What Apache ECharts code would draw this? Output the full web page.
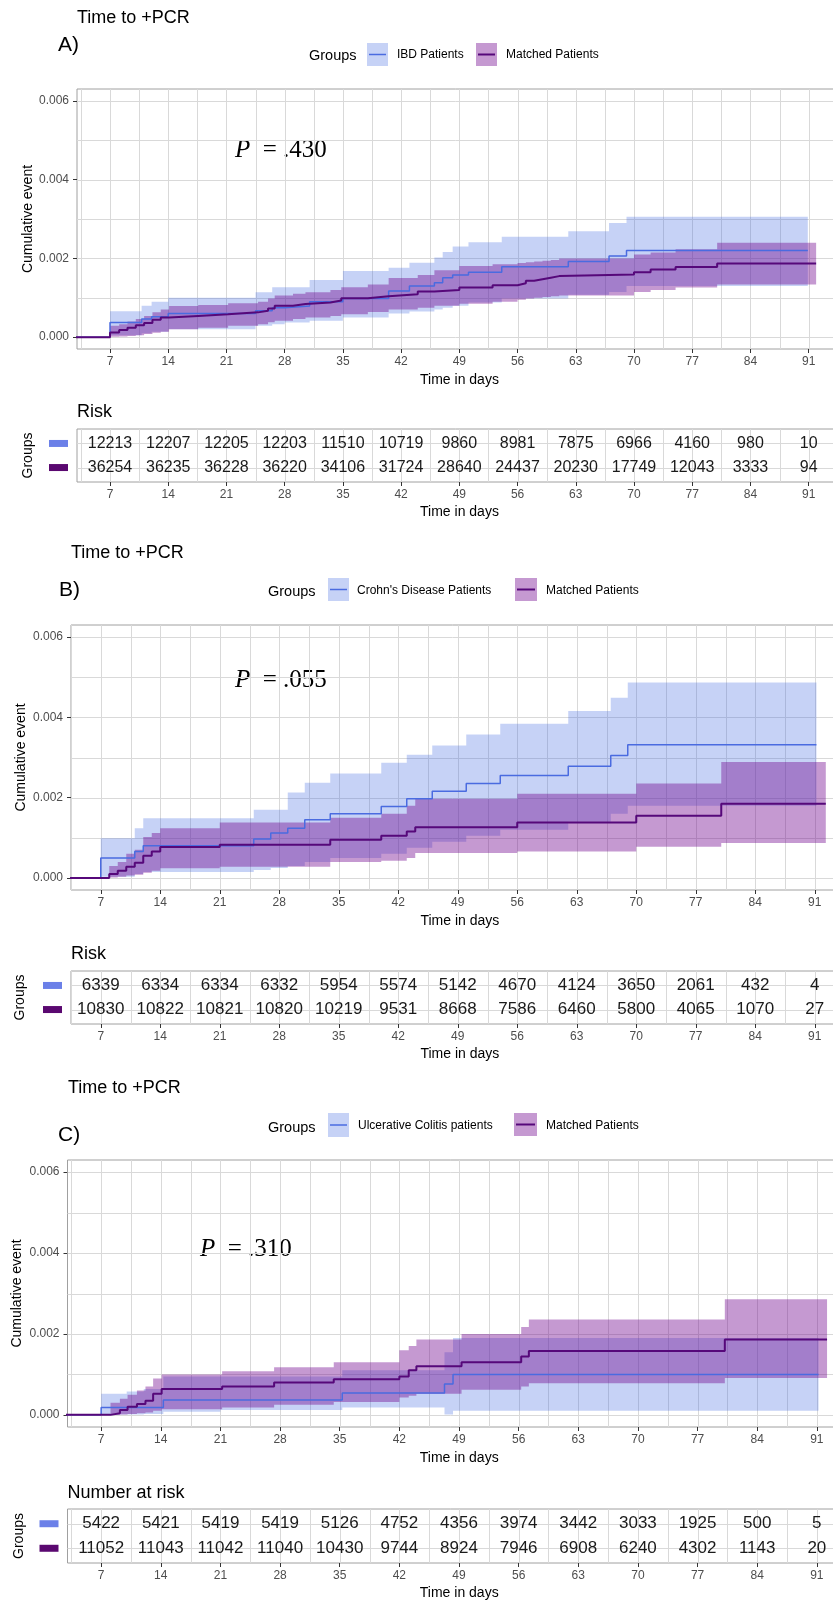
<!DOCTYPE html>
<html><head><meta charset="utf-8">
<script src="https://cdn.jsdelivr.net/npm/echarts@6/dist/echarts.min.js"></script>
<style>html,body{margin:0;padding:0;background:#fff}#c{width:833px;height:1603px}</style>
</head><body><div id="c"></div>
<script>
// ---------- DATA ----------
const xTicks = [7,14,21,28,35,42,49,56,63,70,77,84,91];
const xMinor = [3.5,10.5,17.5,24.5,31.5,38.5,45.5,52.5,59.5,66.5,73.5,80.5,87.5,94.5];
const yTicks = [0,0.002,0.004,0.006];
const yMinor = [0.001,0.003,0.005];
const riskTimes = [7,14,21,28,35,42,49,56,63,70,77,84,91];

// step rows: [day, estimate, lower CI, upper CI]; last row = end of follow-up
const ibdA = [
 [7,0.00037,0.00005,0.00066],[10.8,0.00046,0.0001,0.0008],[12,0.00052,0.00014,0.0009],
 [14,0.0006,0.0002,0.001],[24.5,0.00067,0.00029,0.00114],[26.5,0.00075,0.00033,0.00127],
 [28,0.00079,0.00037,0.00127],[31,0.0009,0.00042,0.00145],[35,0.00098,0.0005,0.00168],
 [40.5,0.00117,0.0006,0.00176],[43,0.0013,0.00065,0.00189],[46,0.00138,0.0007,0.00202],
 [47,0.00151,0.00075,0.00216],[48.2,0.00158,0.0008,0.0023],[50.1,0.00165,0.00088,0.00241],
 [54.1,0.00179,0.00098,0.00255],[62.1,0.00192,0.00108,0.00269],[67,0.00206,0.00115,0.0029],
 [69.1,0.0022,0.0013,0.00306],[90.9,0.0022,0.0013,0.00306]
];
const matA = [
 [7,0.00012,0.00001,0.00029],[8.1,0.00018,0.00002,0.00033],[9.1,0.00024,0.00003,0.0004],
 [10.1,0.0003,0.00005,0.00046],[11.1,0.00036,0.00008,0.00054],[12.1,0.00044,0.00011,0.00063],
 [13.1,0.0005,0.00014,0.0007],[14.1,0.00054,0.0002,0.00079],[17.6,0.00058,0.00024,0.00082],
 [21.2,0.00063,0.00029,0.00086],[24.8,0.00067,0.00033,0.0009],[26,0.00073,0.00038,0.00098],
 [26.8,0.0008,0.00042,0.00106],[29,0.00084,0.00046,0.0011],[30.5,0.00088,0.0005,0.00114],
 [33.5,0.00093,0.00054,0.0012],[34.8,0.00099,0.00058,0.00127],[38,0.00104,0.00064,0.00134],
 [40.5,0.00109,0.0007,0.0015],[44,0.00116,0.00075,0.00158],[46,0.0012,0.0008,0.0017],
 [49,0.00126,0.00085,0.00181],[53,0.00132,0.0009,0.00185],[56,0.00137,0.00095,0.00188],
 [57,0.00143,0.00098,0.0019],[58,0.00147,0.001,0.00192],[59,0.00151,0.00102,0.00194],
 [60,0.00155,0.00104,0.00196],[61,0.00159,0.00106,0.002],[70,0.00165,0.00115,0.0021],
 [72,0.00172,0.0012,0.00215],[75,0.00178,0.00126,0.00223],[80,0.00187,0.00134,0.0024],
 [91.9,0.00187,0.00134,0.0024]
];
const ibdB = [
 [7,0.0005,0.00003,0.00099],[11,0.00066,0.0001,0.00124],[12,0.0008,0.00015,0.00149],
 [25,0.00097,0.0002,0.0017],[27,0.00112,0.00025,0.0017],[29,0.00124,0.0003,0.00213],
 [31,0.00145,0.0004,0.00237],[34,0.0016,0.0005,0.0026],[40,0.00178,0.0006,0.00287],
 [43,0.00197,0.00075,0.00307],[46,0.00216,0.0009,0.0033],[50,0.00235,0.00105,0.00357],
 [54,0.00255,0.0012,0.00384],[62,0.00278,0.0014,0.00416],[67,0.00305,0.0016,0.00449],
 [69,0.00332,0.0018,0.00487],[91.2,0.00332,0.0018,0.00487]
];
const matB = [
 [8,0.0001,0.00001,0.0003],[9,0.00018,0.00003,0.0004],[10,0.00028,0.00006,0.0006],
 [11,0.00038,0.00008,0.0007],[12,0.00055,0.00013,0.00102],[13,0.00066,0.00018,0.00112],
 [14,0.00077,0.00024,0.00124],[21,0.00083,0.00028,0.00138],[34,0.00095,0.0004,0.0015],
 [40,0.00105,0.00043,0.0016],[43,0.00116,0.0005,0.0018],[44,0.00126,0.00062,0.00197],
 [56,0.00138,0.00066,0.0021],[70,0.00155,0.00078,0.00235],[80,0.00185,0.00087,0.00289],
 [92.3,0.00185,0.00087,0.00289]
];
const ibdC = [
 [7,0.00018,0.00001,0.00052],[10,0.00018,0.00001,0.00058],[12,0.00018,0.00002,0.00064],
 [14.3,0.00037,0.00008,0.00095],[21,0.00037,0.00012,0.00095],[35.3,0.00054,0.00018,0.0011],
 [47.3,0.00076,0.00001,0.00155],[48.3,0.001,0.0001,0.0019],[91.2,0.001,0.0001,0.0019]
];
const matC = [
 [8.1,0.00004,0.0,0.0003],[9.2,0.00012,0.00001,0.0004],[10.1,0.0002,0.00002,0.0005],
 [11.2,0.00027,0.00004,0.0006],[12.2,0.00035,0.00006,0.0007],[13.1,0.00052,0.0001,0.0009],
 [14.1,0.00064,0.00014,0.001],[21.2,0.0007,0.00018,0.00108],[27.3,0.0008,0.00025,0.00118],
 [34.3,0.00088,0.00032,0.0013],[42,0.00095,0.00043,0.0016],[43.1,0.0011,0.00047,0.0017],
 [44,0.0012,0.00052,0.00186],[49.3,0.0013,0.00062,0.002],[56.3,0.00144,0.0007,0.00217],
 [57.2,0.00158,0.00078,0.00236],[80.2,0.00186,0.00091,0.00286],[92.2,0.00186,0.00091,0.00286]
];

const riskIbdA = [12213,12207,12205,12203,11510,10719,9860,8981,7875,6966,4160,980,10];
const riskMatA = [36254,36235,36228,36220,34106,31724,28640,24437,20230,17749,12043,3333,94];
const riskIbdB = [6339,6334,6334,6332,5954,5574,5142,4670,4124,3650,2061,432,4];
const riskMatB = [10830,10822,10821,10820,10219,9531,8668,7586,6460,5800,4065,1070,27];
const riskIbdC = [5422,5421,5419,5419,5126,4752,4356,3974,3442,3033,1925,500,5];
const riskMatC = [11052,11043,11042,11040,10430,9744,8924,7946,6908,6240,4302,1143,20];

const legendA = ["IBD Patients","Matched Patients"];
const legendB = ["Crohn's Disease Patients","Matched Patients"];
const legendC = ["Ulcerative Colitis patients","Matched Patients"];
const pValues = [".430",".055",".310"];
const tags = ["A)","B)","C)"];
const riskTitles = ["Risk","Risk","Number at risk"];

// ---------- STYLE / LAYOUT ----------
const SANS = '"Liberation Sans", Arial, sans-serif';
const SERIF = '"Liberation Serif", "Times New Roman", serif';
const BLUE_LINE = '#4a6be0', BLUE_FILL = 'rgba(65,105,225,0.3)';
const PUR_LINE = '#56087a', PUR_FILL = 'rgba(110,0,140,0.4)';
const BLUE_SW = '#6b80e8', PUR_SW = '#5a0870';
const GRIDC = '#d9d9d9';
const XMAX = 95, YMIN = -0.0003, YMAX = 0.0063;

const L = [
 {left:77, top:89, h:260, xmin:3.03, ppd:8.317, tTop:429, tH:53, num:16, yGap:41.5, gGap:41.5,
  titleX:77,titleY:18, tagX:58,tagY:45, grpX:309,grpY:56, sw1:[367,43,21,23], l1X:397, sw2:[476,43,21,23], l2X:506, legY:55,
  riskX:77, riskY:412, pX:235, pY:150},
 {left:71, top:625, h:265, xmin:3.5, ppd:8.5, tTop:971, tH:53, num:17, yGap:42.5, gGap:43.5,
  titleX:71,titleY:553, tagX:59,tagY:590, grpX:268,grpY:592, sw1:[328,578,21,23], l1X:357, sw2:[515,578,22,23], l2X:546, legY:591,
  riskX:71, riskY:954, pX:235, pY:680},
 {left:67.5, top:1160, h:267, xmin:3.05, ppd:8.52, tTop:1509, tH:54, num:17, yGap:43, gGap:41,
  titleX:68,titleY:1088, tagX:58,tagY:1135, grpX:268,grpY:1128, sw1:[328,1113,21,24], l1X:358, sw2:[514,1113,23,23], l2X:546, legY:1126,
  riskX:67.5, riskY:1493, pX:200, pY:1249}
];
const panels = [
 {ibd:ibdA, mat:matA, rI:riskIbdA, rM:riskMatA, leg:legendA},
 {ibd:ibdB, mat:matB, rI:riskIbdB, rM:riskMatB, leg:legendB},
 {ibd:ibdC, mat:matC, rI:riskIbdC, rM:riskMatC, leg:legendC}
];

const grids = [], xAxes = [], yAxes = [], series = [], graphics = [];

function gridLines(idx, vx, hy, xAny) {
  const lines = vx.map(v => [0, v]).concat(hy.map(v => [1, v]));
  return {
    type:'custom', xAxisIndex:idx, yAxisIndex:idx, z:1, silent:true, clip:true,
    data: lines.map((_, i) => i),
    renderItem: (params, api) => {
      const cs = params.coordSys; const l = lines[params.dataIndex];
      if (l[0] === 0) {
        const x = Math.round(api.coord([l[1], 1])[0]) + 0.5;
        return {type:'line', shape:{x1:x, y1:cs.y, x2:x, y2:cs.y + cs.height}, style:{stroke:GRIDC, lineWidth:1}};
      }
      const y = Math.round(api.coord([xAny, l[1]])[1]) + 0.5;
      return {type:'line', shape:{x1:cs.x, y1:y, x2:cs.x + cs.width, y2:y}, style:{stroke:GRIDC, lineWidth:1}};
    }
  };
}
function band(idx, steps, fill, z) {
  return {
    type:'custom', xAxisIndex:idx, yAxisIndex:idx, z:z, silent:true, clip:true, data:[0],
    renderItem: (params, api) => {
      const up = [], lo = [];
      for (let i = 0; i < steps.length - 1; i++) {
        const t0 = steps[i][0], t1 = steps[i+1][0];
        up.push(api.coord([t0, steps[i][3]]), api.coord([t1, steps[i][3]]));
        lo.push(api.coord([t0, steps[i][2]]), api.coord([t1, steps[i][2]]));
      }
      return {type:'polygon', shape:{points: up.concat(lo.reverse())}, style:{fill:fill}};
    }
  };
}
function kmLine(idx, steps, color, w, z) {
  return {
    type:'line', xAxisIndex:idx, yAxisIndex:idx, step:'end', showSymbol:false, z:z, silent:true, clip:true,
    lineStyle:{color:color, width:w}, itemStyle:{color:color},
    data: [[0,0]].concat(steps.map(r => [r[0], r[1]]))
  };
}

panels.forEach((P, k) => {
  const g = L[k];
  const W = (XMAX - g.xmin) * g.ppd;
  const pi = 2*k, ti = 2*k + 1;
  grids.push({left:g.left, top:g.top, width:W, height:g.h, show:true, borderColor:'#a0a0a0', borderWidth:1, backgroundColor:'#fff', outerBoundsMode:'none', containLabel:false});
  grids.push({left:g.left, top:g.tTop, width:W, height:g.tH, show:true, borderColor:'#a0a0a0', borderWidth:1, backgroundColor:'#fff', outerBoundsMode:'none', containLabel:false});
  const xa = (gi, gap) => ({
    type:'value', gridIndex:gi, min:g.xmin, max:XMAX,
    axisLine:{show:false, onZero:false}, splitLine:{show:false},
    axisTick:{show:true, customValues:xTicks, length:4, lineStyle:{color:'#333', width:1}},
    axisLabel:{customValues:xTicks, color:'#4d4d4d', fontSize:12, fontFamily:SANS, margin:7},
    name:'Time in days', nameLocation:'middle', nameGap:gap, nameMoveOverlap:false,
    nameTextStyle:{color:'#000', fontSize:14, fontFamily:SANS}
  });
  xAxes.push(xa(pi, 24), xa(ti, 23));
  yAxes.push({
    type:'value', gridIndex:pi, min:YMIN, max:YMAX,
    axisLine:{show:false, onZero:false}, splitLine:{show:false},
    axisTick:{show:true, customValues:yTicks, length:4, lineStyle:{color:'#333', width:1}},
    axisLabel:{customValues:yTicks, color:'#4d4d4d', fontSize:12, fontFamily:SANS, margin:8, formatter: v => v.toFixed(3)},
    name:'Cumulative event', nameLocation:'middle', nameGap:g.yGap, nameMoveOverlap:false,
    nameTextStyle:{color:'#000', fontSize:14, fontFamily:SANS}
  });
  yAxes.push({
    type:'value', gridIndex:ti, min:0.4, max:2.6,
    axisLine:{show:false, onZero:false}, splitLine:{show:false},
    axisTick:{show:false, customValues:[1,2]},
    axisLabel:{customValues:[1,2], margin:9, formatter: v => v === 2 ? '{b| }' : '{m| }',
      rich:{b:{backgroundColor:BLUE_SW, width:19, height:7, lineHeight:7, fontSize:7},
            m:{backgroundColor:PUR_SW, width:19, height:7, lineHeight:7, fontSize:7}}},
    name:'Groups', nameLocation:'middle', nameGap:g.gGap, nameMoveOverlap:false,
    nameTextStyle:{color:'#000', fontSize:14, fontFamily:SANS}
  });
  series.push(gridLines(pi, xTicks.concat(xMinor), yTicks.concat(yMinor), 10));
  series.push(gridLines(ti, xTicks.concat(xMinor), [1,2], 10));
  series.push(band(pi, P.ibd, BLUE_FILL, 2));
  series.push(band(pi, P.mat, PUR_FILL, 3));
  series.push(kmLine(pi, P.ibd, BLUE_LINE, 1.5, 4));
  series.push(kmLine(pi, P.mat, PUR_LINE, 2, 5));
  const rows = [];
  riskTimes.forEach((t, i) => { rows.push([t, 2, P.rI[i]]); rows.push([t, 1, P.rM[i]]); });
  series.push({
    type:'custom', xAxisIndex:ti, yAxisIndex:ti, z:6, silent:true, clip:false, data:rows,
    renderItem: (params, api) => {
      const p = api.coord([api.value(0), api.value(1)]);
      return {type:'text', x:p[0], y:p[1], style:{text:String(api.value(2)), fill:'#1a1a1a',
        font: g.num + 'px ' + SANS, align:'center', verticalAlign:'middle'}};
    }
  });

  // titles, legend, annotations
  const txt = (x, y, s, size) => ({type:'text', x:x, y:y, silent:true,
    style:{text:s, font: size + 'px ' + SANS, fill:'#000', verticalAlign:'middle', align:'left'}});
  graphics.push(txt(g.titleX, g.titleY, 'Time to +PCR', 18));
  graphics.push(txt(g.tagX, g.tagY, tags[k], 21));
  graphics.push(txt(g.grpX, g.grpY, 'Groups', 14.5));
  [[g.sw1, BLUE_FILL, BLUE_LINE, 1.5, g.l1X, P.leg[0]], [g.sw2, PUR_FILL, PUR_LINE, 2, g.l2X, P.leg[1]]].forEach(s => {
    const r = s[0];
    graphics.push({type:'rect', silent:true, shape:{x:r[0], y:r[1], width:r[2], height:r[3]}, style:{fill:s[1]}});
    graphics.push({type:'line', silent:true, shape:{x1:r[0]+2, y1:r[1]+r[3]/2, x2:r[0]+r[2]-2, y2:r[1]+r[3]/2}, style:{stroke:s[2], lineWidth:s[3]}});
    graphics.push(txt(s[4], g.legY, s[5], 12));
  });
  graphics.push(txt(g.riskX, g.riskY, riskTitles[k], 18));
  graphics.push({type:'text', x:g.pX, y:g.pY, silent:true, style:{
    text:'{i|P}{n|  = ' + pValues[k] + '}', verticalAlign:'middle', align:'left',
    rich:{i:{fontFamily:SERIF, fontStyle:'italic', fontSize:25, fill:'#000'},
          n:{fontFamily:SERIF, fontSize:25, fill:'#000'}}}});
});

const chart = echarts.init(document.getElementById('c'), null, {renderer:'canvas', width:833, height:1603});
chart.setOption({
  animation:false, backgroundColor:'#fff',
  grid:grids, xAxis:xAxes, yAxis:yAxes, series:series, graphic:graphics
});
</script></body></html>
